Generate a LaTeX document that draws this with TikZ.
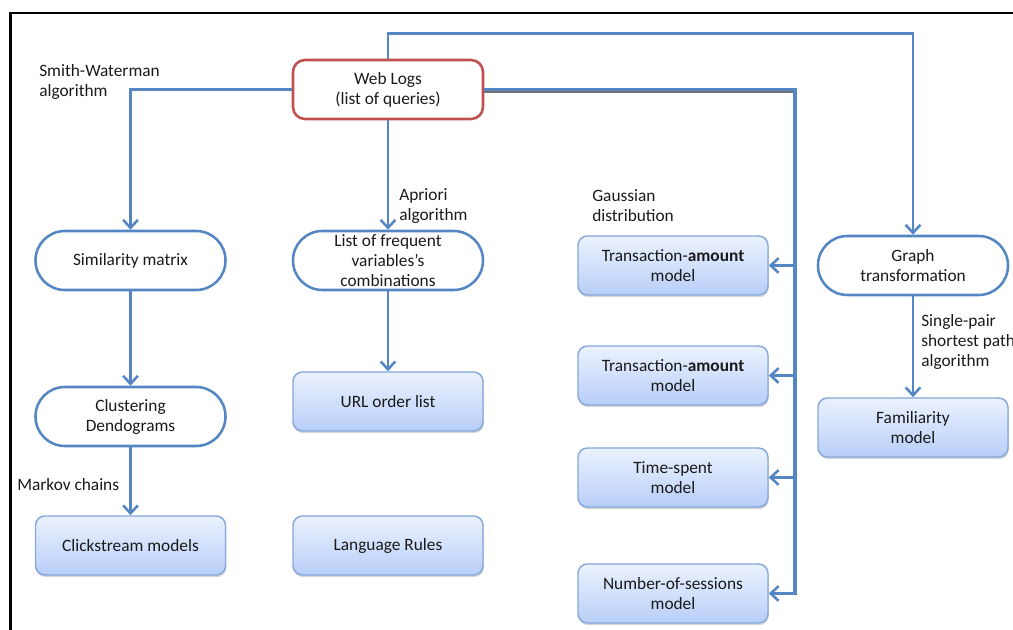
\documentclass[tikz,border=0pt]{standalone}
\usepackage{fontspec}
\setmainfont{Carlito}
\usepackage{tikz}
\usetikzlibrary{arrows.meta,shadows}
\definecolor{ink}{HTML}{1A1A1A}
\definecolor{lineblue}{HTML}{5586C4}
\definecolor{logred}{HTML}{C0504D}
\definecolor{boxedge}{HTML}{86A8DC}
\definecolor{boxtop}{HTML}{EBF2FE}
\definecolor{boxbot}{HTML}{B8CEF8}
\tikzset{pillbox/.style={draw=lineblue,fill=white,line width=1.9pt,rounded corners=22pt,minimum width=142.5pt,minimum height=44.25pt,inner ysep=0pt,align=center,text=ink,font=\fontsize{13}{15}\selectfont},modelbox/.style={draw=boxedge,line width=1.1pt,rounded corners=7pt,top color=boxtop,bottom color=boxbot,minimum width=142.5pt,minimum height=44.25pt,align=center,text=ink,font=\fontsize{13}{15}\selectfont,drop shadow={shadow xshift=.6pt,shadow yshift=-1.6pt,fill=black!35,opacity=.45}},logbox/.style={draw=logred,fill=white,line width=1.9pt,rounded corners=9pt,minimum width=142.5pt,minimum height=44.25pt,align=center,text=ink,font=\fontsize{13}{15}\selectfont},flowline/.style={draw=lineblue,line width=1.9pt,-{Straight Barb[length=6pt,width=11pt]}},trunkline/.style={draw=lineblue,line width=2.6pt,preaction={draw=black!55,line width=2.6pt,transform canvas={yshift=-1pt}}},notelabel/.style={font=\fontsize{13}{15}\selectfont,text=ink,align=left,inner sep=0pt,anchor=north west}}
\begin{document}
\begin{tikzpicture}[x=0.75pt,y=-0.75pt]
\useasboundingbox (0,0) rectangle (1013,630);
\draw[line width=2.2pt] (10.5,630)--(10.5,13)--(1013,13);
% source and left branch
\node[logbox] (web) at (388,89.5) {Web Logs\\(list of queries)};
\node[pillbox] (sim) at (130.5,260.5) {Similarity matrix};
\node[pillbox] (clust) at (130.5,416.5) {Clustering\\Dendograms};
\node[modelbox] (click) at (130.5,545.5) {Clickstream models};
% middle branch
\node[pillbox] (freq) at (388,260.5) {List of frequent\\variables’s\\combinations};
\node[modelbox] (url) at (388,401.5) {URL order list};
\node[modelbox] (lang) at (388,545.5) {Language Rules};
% statistical models
\node[modelbox] (amtA) at (673,265.5) {Transaction-\textbf{amount}\\model};
\node[modelbox] (amtB) at (673,375.5) {Transaction-\textbf{amount}\\model};
\node[modelbox] (time) at (673,477.5) {Time-spent\\model};
\node[modelbox] (sess) at (673,593.5) {Number-of-sessions\\model};
% graph branch
\node[pillbox] (graph) at (913,265.5) {Graph\\transformation};
\node[modelbox] (fam) at (913,427.5) {Familiarity\\model};
% labels
\node[notelabel] (swlab) at (39,64) {Smith-Waterman\\algorithm};
\node[notelabel] (aplab) at (399,188) {Apriori\\algorithm};
\node[notelabel] (galab) at (592,189) {Gaussian\\distribution};
\node[notelabel] (mklab) at (17,478) {Markov chains};
\node[notelabel] (splab) at (921,314) {Single-pair\\shortest path\\algorithm};
% connectors
\draw[flowline] (web.west) -| (sim.north);
\draw[flowline] (sim) -- (clust);\draw[flowline] (clust) -- (click);
\draw[flowline] (web.south) -- (freq.north);\draw[flowline] (freq) -- (url);
\draw[flowline] (web.north) -- ++(0,-25) -| (graph.north);
\draw[flowline] (graph) -- (fam);
\coordinate (bus) at (795,89.5);
\draw[trunkline] (web.east) -- (bus) -- (bus |- sess.east);
\foreach \m in {amtA,amtB,time,sess} \draw[flowline] (bus |- \m.east) -- (\m.east);
\end{tikzpicture}
\end{document}
